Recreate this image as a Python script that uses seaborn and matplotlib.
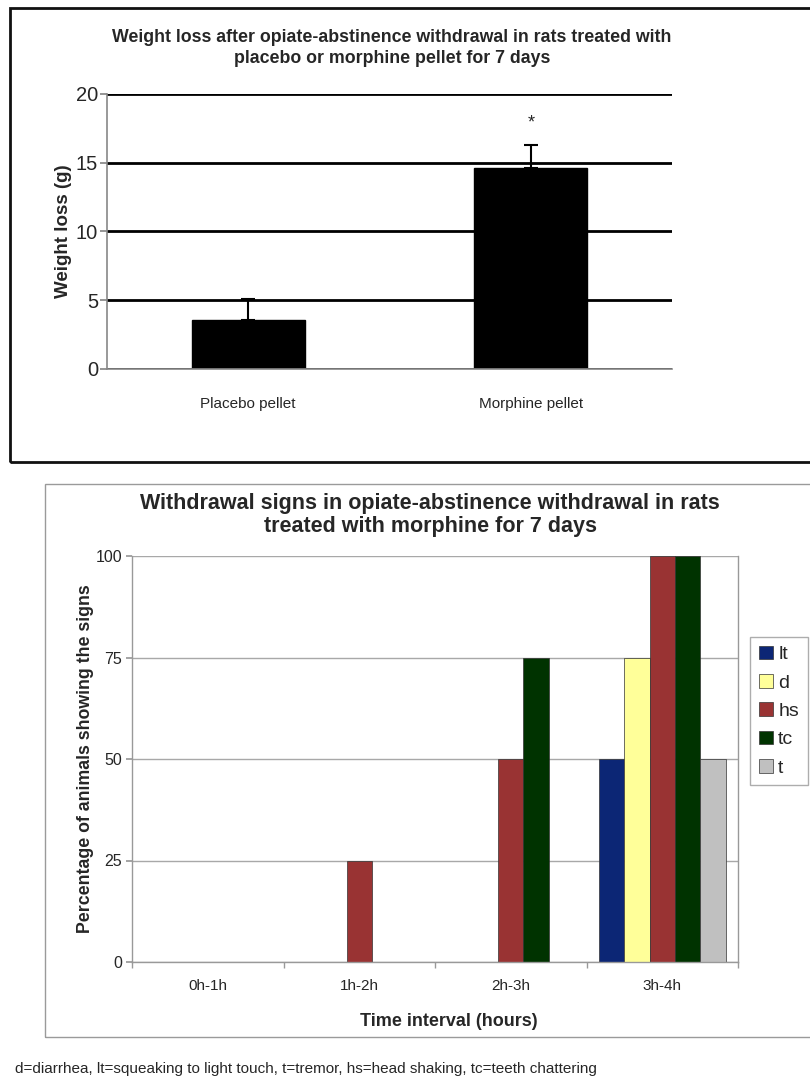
import matplotlib
matplotlib.use("Agg")
import matplotlib.pyplot as plt
from matplotlib.patches import Rectangle
import seaborn as sns
import pandas as pd
import numpy as np

# ---- data: top chart ----
pellets = ["Placebo pellet", "Morphine pellet"]
weight_loss = [3.6, 14.6]
weight_err = [1.5, 1.7]
star_y = 17.9

# ---- data: bottom chart ----
intervals = ["0h-1h", "1h-2h", "2h-3h", "3h-4h"]
signs = ["lt", "d", "hs", "tc", "t"]
lt_vals = [0, 0, 0, 50]
d_vals = [0, 0, 0, 75]
hs_vals = [0, 25, 50, 100]
tc_vals = [0, 0, 75, 100]
t_vals = [0, 0, 0, 50]
sign_colors = ["#0c2675", "#ffff99", "#993333", "#003300", "#c0c0c0"]

sns.set_theme(style="white")
plt.rcParams['font.family'] = ['Liberation Sans', 'DejaVu Sans']

W, H = 810, 1076
fig = plt.figure(figsize=(W / 100, H / 100), dpi=100)

def fx(px):
    return px / W

def fy(py):
    return 1 - py / H

# frames
fig.patches.append(Rectangle((fx(10), fy(462)), fx(805), (462 - 8) / H,
                             transform=fig.transFigure, fill=False,
                             edgecolor="#111111", linewidth=2))
fig.patches.append(Rectangle((fx(45), fy(1037)), fx(770), (1037 - 484) / H,
                             transform=fig.transFigure, fill=False,
                             edgecolor="#9a9a9a", linewidth=1))

# ---------------- top chart ----------------
ax1 = fig.add_axes([fx(107), fy(369), fx(672 - 107), (369 - 94) / H])
df1 = pd.DataFrame({"group": pellets, "loss": weight_loss})
sns.barplot(data=df1, x="group", y="loss", color="black", width=0.4,
            saturation=1, ax=ax1, errorbar=None, edgecolor="black")
ax1.errorbar(np.arange(len(pellets)), weight_loss,
             yerr=[np.zeros(len(pellets)), weight_err],
             fmt="none", ecolor="black", elinewidth=1.5, capsize=5, capthick=1.5)
ax1.text(1, star_y, "*", ha="center", va="center", fontsize=13)
ax1.set_xlim(-0.5, 1.5)
ax1.set_ylim(0, 20)
ax1.set_yticks([0, 5, 10, 15, 20])
ax1.set_axisbelow(True)
ax1.yaxis.grid(True, color="black", linewidth=2)
ax1.xaxis.grid(False)
for s in ["top", "right"]:
    ax1.spines[s].set_visible(False)
for s in ["left", "bottom"]:
    ax1.spines[s].set_color("#888888")
    ax1.spines[s].set_linewidth(1.2)
ax1.set_xticks([-0.5, 0.5, 1.5], minor=True)
ax1.tick_params(axis="x", which="major", length=0, labelsize=11, pad=20)
ax1.tick_params(axis="x", which="minor", length=4, color="#888888", direction="in")
ax1.tick_params(axis="y", length=5, color="#888888", labelsize=14.5, pad=1.5, left=True)
ax1.set_xlabel("")
ax1.set_ylabel("Weight loss (g)", fontsize=13.5, fontweight="bold", labelpad=3)
fig.text(fx(392), fy(48),
         "Weight loss after opiate-abstinence withdrawal in rats treated with\nplacebo or morphine pellet for 7 days",
         ha="center", va="center", fontsize=12.8, fontweight="bold", linespacing=1.3)

# ---------------- bottom chart ----------------
ax2 = fig.add_axes([fx(132), fy(962), fx(738 - 132), (962 - 556) / H])
value_lists = [lt_vals, d_vals, hs_vals, tc_vals, t_vals]
rows = []
for sgn, vals in zip(signs, value_lists):
    for iv, v in zip(intervals, vals):
        rows.append({"interval": iv, "sign": sgn, "value": v})
df2 = pd.DataFrame(rows)
sns.barplot(data=df2, x="interval", y="value", hue="sign", order=intervals,
            hue_order=signs, palette=sign_colors, width=0.84, saturation=1,
            errorbar=None, ax=ax2, edgecolor="#333333", linewidth=0.5)
ax2.set_xlim(-0.5, 3.5)
ax2.set_ylim(0, 100)
ax2.set_yticks([0, 25, 50, 75, 100])
ax2.set_axisbelow(True)
ax2.yaxis.grid(True, color="#a8a8a8", linewidth=1)
ax2.xaxis.grid(False)
ax2.spines["top"].set_visible(False)
for s in ["left", "bottom", "right"]:
    ax2.spines[s].set_color("#999999")
    ax2.spines[s].set_linewidth(1)
ax2.set_xticks([-0.5, 0.5, 1.5, 2.5, 3.5], minor=True)
ax2.tick_params(axis="x", which="major", length=0, labelsize=11, pad=12)
ax2.tick_params(axis="x", which="minor", length=4, color="#999999", direction="out", bottom=True)
ax2.tick_params(axis="y", length=4, color="#999999", labelsize=11.5, left=True, pad=3)
ax2.set_xlabel("")
ax2.set_ylabel("Percentage of animals showing the signs", fontsize=12.8,
               fontweight="bold", labelpad=1)
fig.text(fx(449), fy(1022), "Time interval (hours)", ha="center", va="center",
         fontsize=13, fontweight="bold")
fig.text(fx(430), fy(515),
         "Withdrawal signs in opiate-abstinence withdrawal in rats\ntreated with morphine for 7 days",
         ha="center", va="center", fontsize=15.5, fontweight="bold", linespacing=1.15)

handles, labels = ax2.get_legend_handles_labels()
if ax2.legend_:
    ax2.legend_.remove()
leg = fig.legend(handles, labels, loc="upper left",
                 bbox_to_anchor=(fx(750), fy(637)), bbox_transform=fig.transFigure,
                 fontsize=14, frameon=True, fancybox=False, handlelength=0.75,
                 handleheight=0.7, handletextpad=0.25, labelspacing=0.55,
                 borderpad=0.45, borderaxespad=0)
leg.get_frame().set_edgecolor("#999999")
leg.get_frame().set_linewidth(1)

fig.text(fx(15), fy(1069),
         "d=diarrhea, lt=squeaking to light touch, t=tremor, hs=head shaking, tc=teeth chattering",
         ha="left", va="center", fontsize=11)

fig.savefig("out.png", dpi=100)
